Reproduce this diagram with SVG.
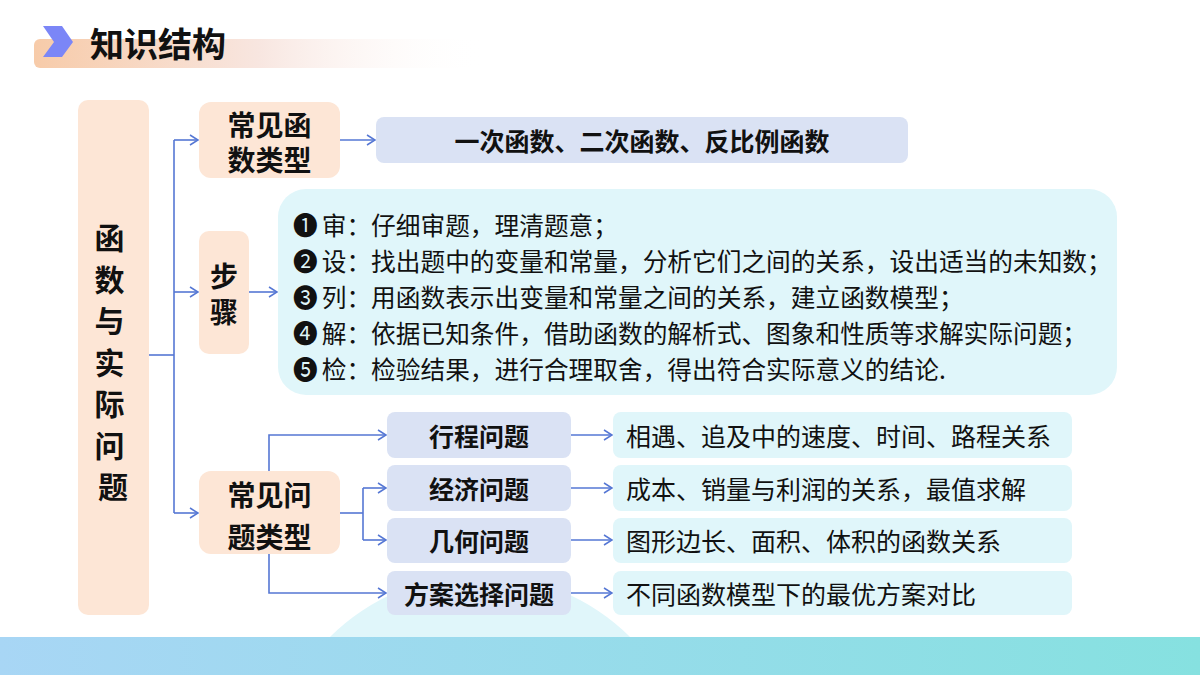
<svg xmlns="http://www.w3.org/2000/svg" width="1200" height="675" viewBox="0 0 1200 675">
<defs>
<linearGradient id="hdr" x1="0" y1="0" x2="1" y2="0">
<stop offset="0" stop-color="#f7cba9"/>
<stop offset="0.5" stop-color="#f8e6e0"/>
<stop offset="1" stop-color="#ffffff" stop-opacity="0"/>
</linearGradient>
<linearGradient id="band" x1="0" y1="0" x2="1" y2="0">
<stop offset="0" stop-color="#a8d6f5"/>
<stop offset="1" stop-color="#86e1e0"/>
</linearGradient>
<marker id="ah" markerWidth="14" markerHeight="14" refX="11" refY="6" orient="auto" markerUnits="userSpaceOnUse">
<path d="M3,1 L11,6 L3,11" fill="none" stroke="#5577d4" stroke-width="1.5"/>
</marker>
</defs>
<style>
.t{font-family:"Noto Sans CJK SC","Noto Sans",sans-serif;fill:#111;dominant-baseline:central}
.b{font-weight:bold}
.peach{fill:#fde6d6}
.lav{fill:#dae2f4}
.cyan{fill:#e0f6fa}
.c{fill:none;stroke:#5577d4;stroke-width:1.6}
</style>
<rect width="1200" height="675" fill="#ffffff"/>
<!-- header -->
<g id="header">
<rect x="34" y="39" width="450" height="29" rx="6" fill="url(#hdr)"/>
<polygon points="43,26 62,26 73,42 62,57 43,57 54,42" fill="#7b86f7"/>
<text class="t b" x="90" y="42" font-size="34">知识结构</text>
</g>
<!-- bottom decoration -->
<g id="bottom">
<circle cx="480" cy="788" r="213" fill="#e0f6fa"/>
<rect x="0" y="637" width="1200" height="38" fill="url(#band)"/>
</g>
<!-- connectors -->
<g id="connectors">
<path class="c" d="M149,355 H174"/>
<path class="c" d="M174,140 V513"/>
<path class="c" d="M174,140 H198" marker-end="url(#ah)"/>
<path class="c" d="M174,292 H198" marker-end="url(#ah)"/>
<path class="c" d="M174,513 H198" marker-end="url(#ah)"/>
<path class="c" d="M340,140 H375" marker-end="url(#ah)"/>
<path class="c" d="M248,292 H277" marker-end="url(#ah)"/>
<path class="c" d="M269,471 V435 H386" marker-end="url(#ah)"/>
<path class="c" d="M340,513 H363"/>
<path class="c" d="M363,488 V540"/>
<path class="c" d="M363,488 H386" marker-end="url(#ah)"/>
<path class="c" d="M363,540 H386" marker-end="url(#ah)"/>
<path class="c" d="M269,554 V593 H386" marker-end="url(#ah)"/>
<path class="c" d="M571,435 H612" marker-end="url(#ah)"/>
<path class="c" d="M571,488 H612" marker-end="url(#ah)"/>
<path class="c" d="M571,540 H612" marker-end="url(#ah)"/>
<path class="c" d="M571,593 H612" marker-end="url(#ah)"/>
</g>
<!-- nodes -->
<g id="root">
<rect class="peach" x="78" y="100" width="71" height="515" rx="10"/>
<text class="t b" font-size="30" text-anchor="middle">
<tspan x="113" y="236">函</tspan>
<tspan x="113" y="277.5">数</tspan>
<tspan x="113" y="319">与</tspan>
<tspan x="113" y="360.5">实</tspan>
<tspan x="113" y="402">际</tspan>
<tspan x="113" y="443.5">问</tspan>
<tspan x="113" y="485">题</tspan>
</text>
</g>
<g id="func-types">
<rect class="peach" x="199" y="102" width="141" height="76" rx="12"/>
<text class="t b" font-size="28" text-anchor="middle" x="269.5" y="124">常见函</text>
<text class="t b" font-size="28" text-anchor="middle" x="269.5" y="159">数类型</text>
</g>
<g id="func-list">
<rect class="lav" x="376" y="117" width="532" height="46" rx="8"/>
<text class="t b" x="642" y="140" font-size="25" text-anchor="middle">一次函数、二次函数、反比例函数</text>
</g>
<g id="steps">
<rect class="peach" x="199" y="231" width="50" height="123" rx="10"/>
<text class="t b" font-size="28" text-anchor="middle" x="224" y="275">步</text>
<text class="t b" font-size="28" text-anchor="middle" x="224" y="311">骤</text>
</g>
<g id="steps-detail">
<rect class="cyan" x="278" y="189" width="839" height="206" rx="28"/>
<text class="t" font-size="24.7" x="293" y="224">❶<tspan dx="4">审：仔细审题，理清题意；</tspan></text>
<text class="t" font-size="24.7" x="293" y="260">❷<tspan dx="4">设：找出题中的变量和常量，分析它们之间的关系，设出适当的未知数；</tspan></text>
<text class="t" font-size="24.7" x="293" y="296">❸<tspan dx="4">列：用函数表示出变量和常量之间的关系，建立函数模型；</tspan></text>
<text class="t" font-size="24.7" x="293" y="332">❹<tspan dx="4">解：依据已知条件，借助函数的解析式、图象和性质等求解实际问题；</tspan></text>
<text class="t" font-size="24.7" x="293" y="368">❺<tspan dx="4">检：检验结果，进行合理取舍，得出符合实际意义的结论.</tspan></text>
</g>
<g id="problem-types">
<rect class="peach" x="199" y="471" width="141" height="83" rx="12"/>
<text class="t b" font-size="28" text-anchor="middle" x="269.5" y="494">常见问</text>
<text class="t b" font-size="28" text-anchor="middle" x="269.5" y="536">题类型</text>
</g>
<g id="p1">
<rect class="lav" x="387" y="412" width="184" height="46" rx="8"/>
<text class="t b" x="479" y="435" font-size="25" text-anchor="middle">行程问题</text>
</g>
<g id="p2">
<rect class="lav" x="387" y="465" width="184" height="46" rx="8"/>
<text class="t b" x="479" y="488" font-size="25" text-anchor="middle">经济问题</text>
</g>
<g id="p3">
<rect class="lav" x="387" y="518" width="184" height="45" rx="8"/>
<text class="t b" x="479" y="540" font-size="25" text-anchor="middle">几何问题</text>
</g>
<g id="p4">
<rect class="lav" x="387" y="571" width="184" height="44" rx="8"/>
<text class="t b" x="479" y="593" font-size="25" text-anchor="middle">方案选择问题</text>
</g>
<g id="d1">
<rect class="cyan" x="613" y="412" width="459" height="46" rx="8"/>
<text class="t" x="626" y="435" font-size="25">相遇、追及中的速度、时间、路程关系</text>
</g>
<g id="d2">
<rect class="cyan" x="613" y="465" width="459" height="46" rx="8"/>
<text class="t" x="626" y="488" font-size="25">成本、销量与利润的关系，最值求解</text>
</g>
<g id="d3">
<rect class="cyan" x="613" y="518" width="459" height="45" rx="8"/>
<text class="t" x="626" y="540" font-size="25">图形边长、面积、体积的函数关系</text>
</g>
<g id="d4">
<rect class="cyan" x="613" y="571" width="459" height="44" rx="8"/>
<text class="t" x="626" y="593" font-size="25">不同函数模型下的最优方案对比</text>
</g>
</svg>
